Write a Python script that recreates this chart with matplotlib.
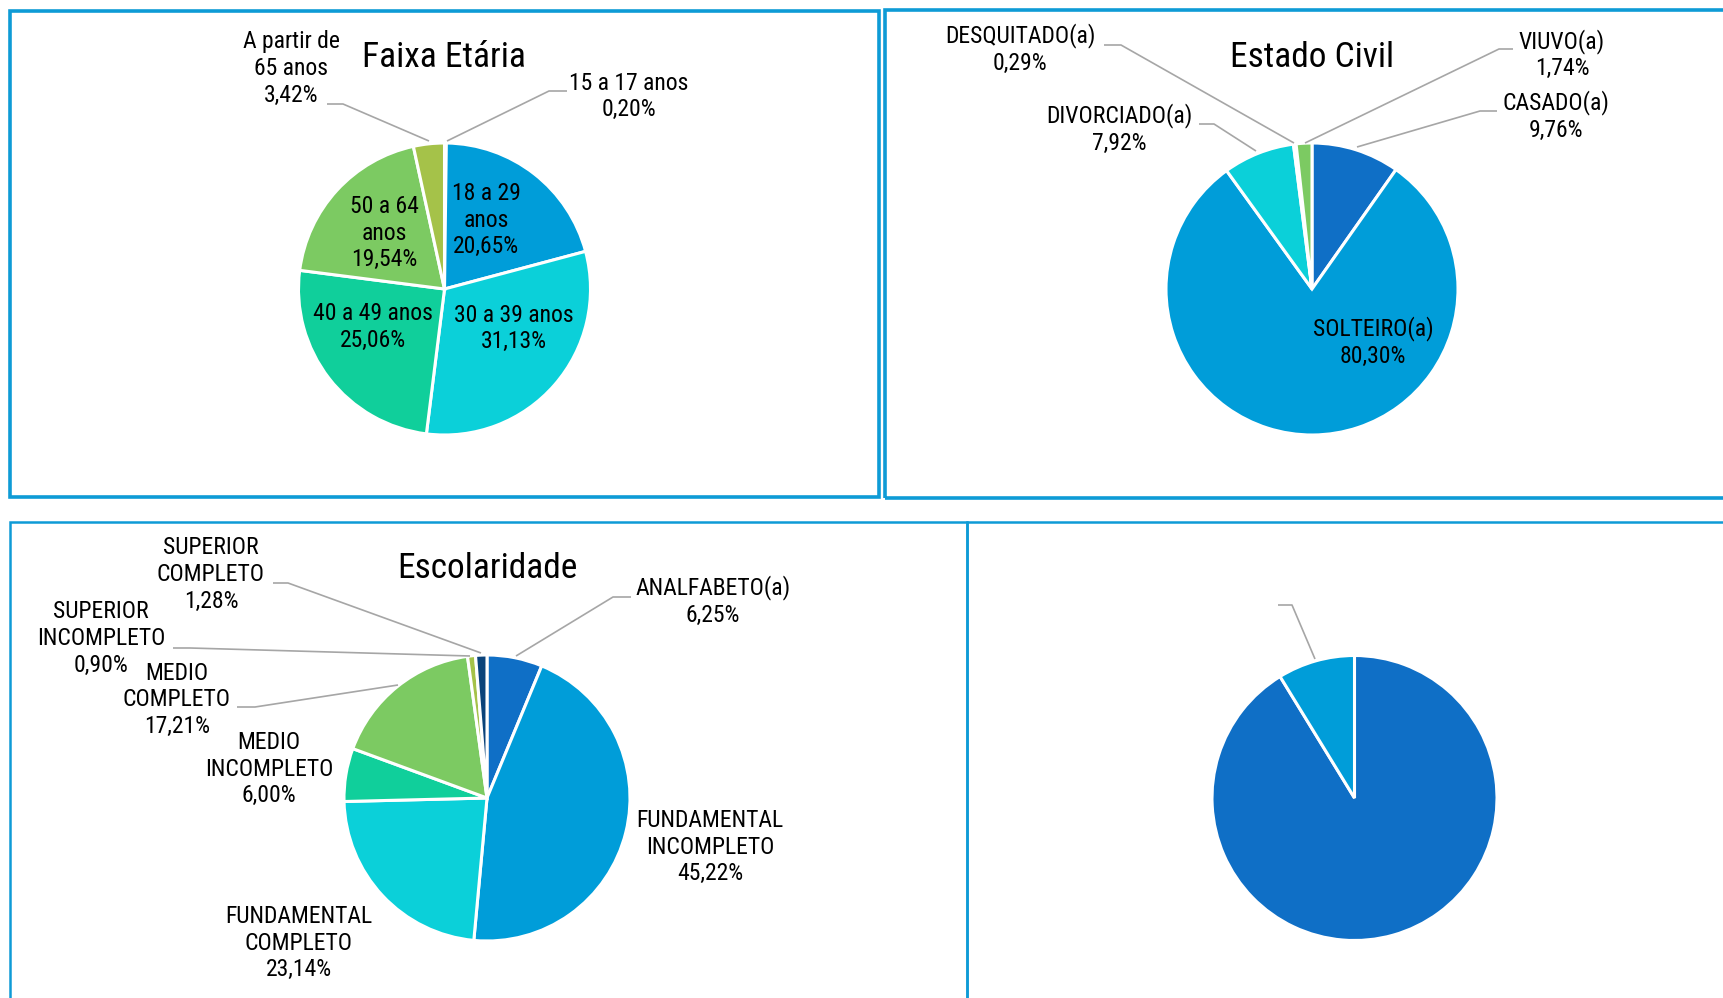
import matplotlib
matplotlib.use('Agg')
import matplotlib.pyplot as plt
from matplotlib import font_manager
from matplotlib.patches import Rectangle

# ---------------- data ----------------
faixa_title = 'Faixa Etária'
faixa_labels = ['15 a 17 anos', '18 a 29\nanos', '30 a 39 anos', '40 a 49 anos', '50 a 64\nanos', 'A partir de\n65 anos']
faixa_values = [0.20, 20.65, 31.13, 25.06, 19.54, 3.42]

civil_title = 'Estado Civil'
civil_labels = ['CASADO(a)', 'SOLTEIRO(a)', 'DIVORCIADO(a)', 'DESQUITADO(a)', 'VIUVO(a)']
civil_values = [9.76, 80.30, 7.92, 0.29, 1.74]

escol_title = 'Escolaridade'
escol_labels = ['ANALFABETO(a)', 'FUNDAMENTAL\nINCOMPLETO', 'FUNDAMENTAL\nCOMPLETO', 'MEDIO\nINCOMPLETO',
                'MEDIO\nCOMPLETO', 'SUPERIOR\nINCOMPLETO', 'SUPERIOR\nCOMPLETO']
escol_values = [6.25, 45.22, 23.14, 6.00, 17.21, 0.90, 1.28]

fourth_values = [91.25, 8.75]

# ---------------- style ----------------
W, H = 1723, 998
fonts = font_manager.fontManager.ttflist
names = {f.name for f in fonts}

FP = None
LABEL_FS, TITLE_FS = 17, 25.5
for nm in ['Liberation Sans Narrow', 'Arial Narrow', 'Roboto Condensed', 'Open Sans Condensed',
           'Noto Sans Condensed', 'Inter Condensed']:
    if nm in names:
        plt.rcParams['font.family'] = [nm, 'DejaVu Sans']
        FP = nm
        break
if FP is None:
    cand = [f for f in fonts if ('condensed' in f.fname.lower() or 'narrow' in f.fname.lower())
            and 'bold' not in f.fname.lower() and 'italic' not in f.fname.lower()
            and 'oblique' not in f.fname.lower() and 'light' not in f.fname.lower()
            and 'semi' not in f.fname.lower() and 'extra' not in f.fname.lower()
            and 'medium' not in f.fname.lower() and 'thin' not in f.fname.lower()
            and 'black' not in f.fname.lower() and 'mono' not in f.fname.lower()]
    pref = sorted(cand, key=lambda f: (0 if 'roboto' in f.fname.lower() else
                                       1 if 'noto' in f.fname.lower() else
                                       2 if 'open' in f.fname.lower() else 3))
    if pref:
        font_manager.fontManager.addfont(pref[0].fname)
        plt.rcParams['font.family'] = [pref[0].name, 'DejaVu Sans']
        plt.rcParams['font.stretch'] = pref[0].stretch
        FP = pref[0].name
if FP is None:
    plt.rcParams['font.family'] = ['Roboto', 'DejaVu Sans']
    LABEL_FS, TITLE_FS = 15, 22

COLORS = ['#0F6FC6', '#009DD9', '#0BD0D9', '#10CF9B', '#7CCA62', '#A5C249', '#0A437A']
BORDER = '#0E9BD6'
LEADER = '#A6A6A6'

fig = plt.figure(figsize=(W / 100, H / 100), dpi=100)
ax = fig.add_axes([0, 0, 1, 1])


def fmt(v):
    return f'{v:.2f}'.replace('.', ',') + '%'


def draw_pie(values, cx, cy, r, colors):
    ax.pie(values, colors=colors, startangle=90, counterclock=False,
           center=(cx, H - cy), radius=r, frame=True,
           wedgeprops=dict(edgecolor='white', linewidth=2.2))


def label(text, x, y, fs=None):
    ax.text(x, H - y, text, ha='center', va='center', fontsize=fs or LABEL_FS,
            linespacing=1.2, color='black')


def leader(pts):
    xs = [p[0] for p in pts]
    ys = [H - p[1] for p in pts]
    ax.plot(xs, ys, color=LEADER, lw=1.2, solid_capstyle='butt')


# ---------------- panel borders ----------------
ax.add_patch(Rectangle((10, H - 497), 869, 486, fill=False, ec=BORDER, lw=2.6))
ax.add_patch(Rectangle((885, H - 498), 860, 488, fill=False, ec=BORDER, lw=2.6))
ax.add_patch(Rectangle((9.5, H - 1010), 957, 488, fill=False, ec=BORDER, lw=1.8))
ax.add_patch(Rectangle((966.5, H - 1010), 780, 488, fill=False, ec=BORDER, lw=1.8))

# ---------------- Faixa Etária ----------------
draw_pie(faixa_values, 444.5, 289, 146, COLORS[:6])
ax.text(444, H - 57, faixa_title, ha='center', va='center', fontsize=TITLE_FS)
fpos = [(629, 96.5), (486, 220), (514, 328.5), (373, 327), (384, 233), (291, 68.5)]
for lab, v, (x, y) in zip(faixa_labels, faixa_values, fpos):
    label(f'{lab}\n{fmt(v)}', x, y)
leader([(447, 141), (549, 91), (567, 91)])
leader([(327, 104), (343, 104), (429, 141)])

# ---------------- Estado Civil ----------------
draw_pie(civil_values, 1312, 289, 146, COLORS[:5])
ax.text(1312, H - 57, civil_title, ha='center', va='center', fontsize=TITLE_FS)
cpos = [(1556, 116), (1373, 342), (1119, 129), (1020, 49), (1562, 54.5)]
for lab, v, (x, y) in zip(civil_labels, civil_values, cpos):
    label(f'{lab}\n{fmt(v)}', x, y)
leader([(1357, 147), (1480, 111), (1497, 111)])
leader([(1199, 124), (1214, 124), (1256, 151)])
leader([(1104, 45), (1121, 45), (1294, 143)])
leader([(1305, 143), (1499, 49), (1513, 49)])

# ---------------- Escolaridade ----------------
draw_pie(escol_values, 487, 798, 143, COLORS)
ax.text(487, H - 569, escol_title, ha='center', va='center', fontsize=TITLE_FS)
epos = [(713, 601), (710, 847), (299, 943), (269, 769), (177, 700), (101, 638.5), (211, 574.5)]
for lab, v, (x, y) in zip(escol_labels, escol_values, epos):
    label(f'{lab}\n{fmt(v)}', x, y)
leader([(516, 656), (613, 597), (631, 597)])
leader([(237, 707), (255, 707), (398, 685)])
leader([(173, 648), (190, 648), (470, 656)])
leader([(273, 583), (288, 583), (481, 653)])

# ---------------- fourth pie ----------------
draw_pie(fourth_values, 1354.5, 798, 142.5, COLORS[:2])
leader([(1278, 605), (1292, 605), (1315, 659)])

ax.set_xlim(0, W)
ax.set_ylim(0, H)
ax.set_aspect('auto')
ax.axis('off')
fig.savefig('out.png', dpi=100, facecolor='white')
